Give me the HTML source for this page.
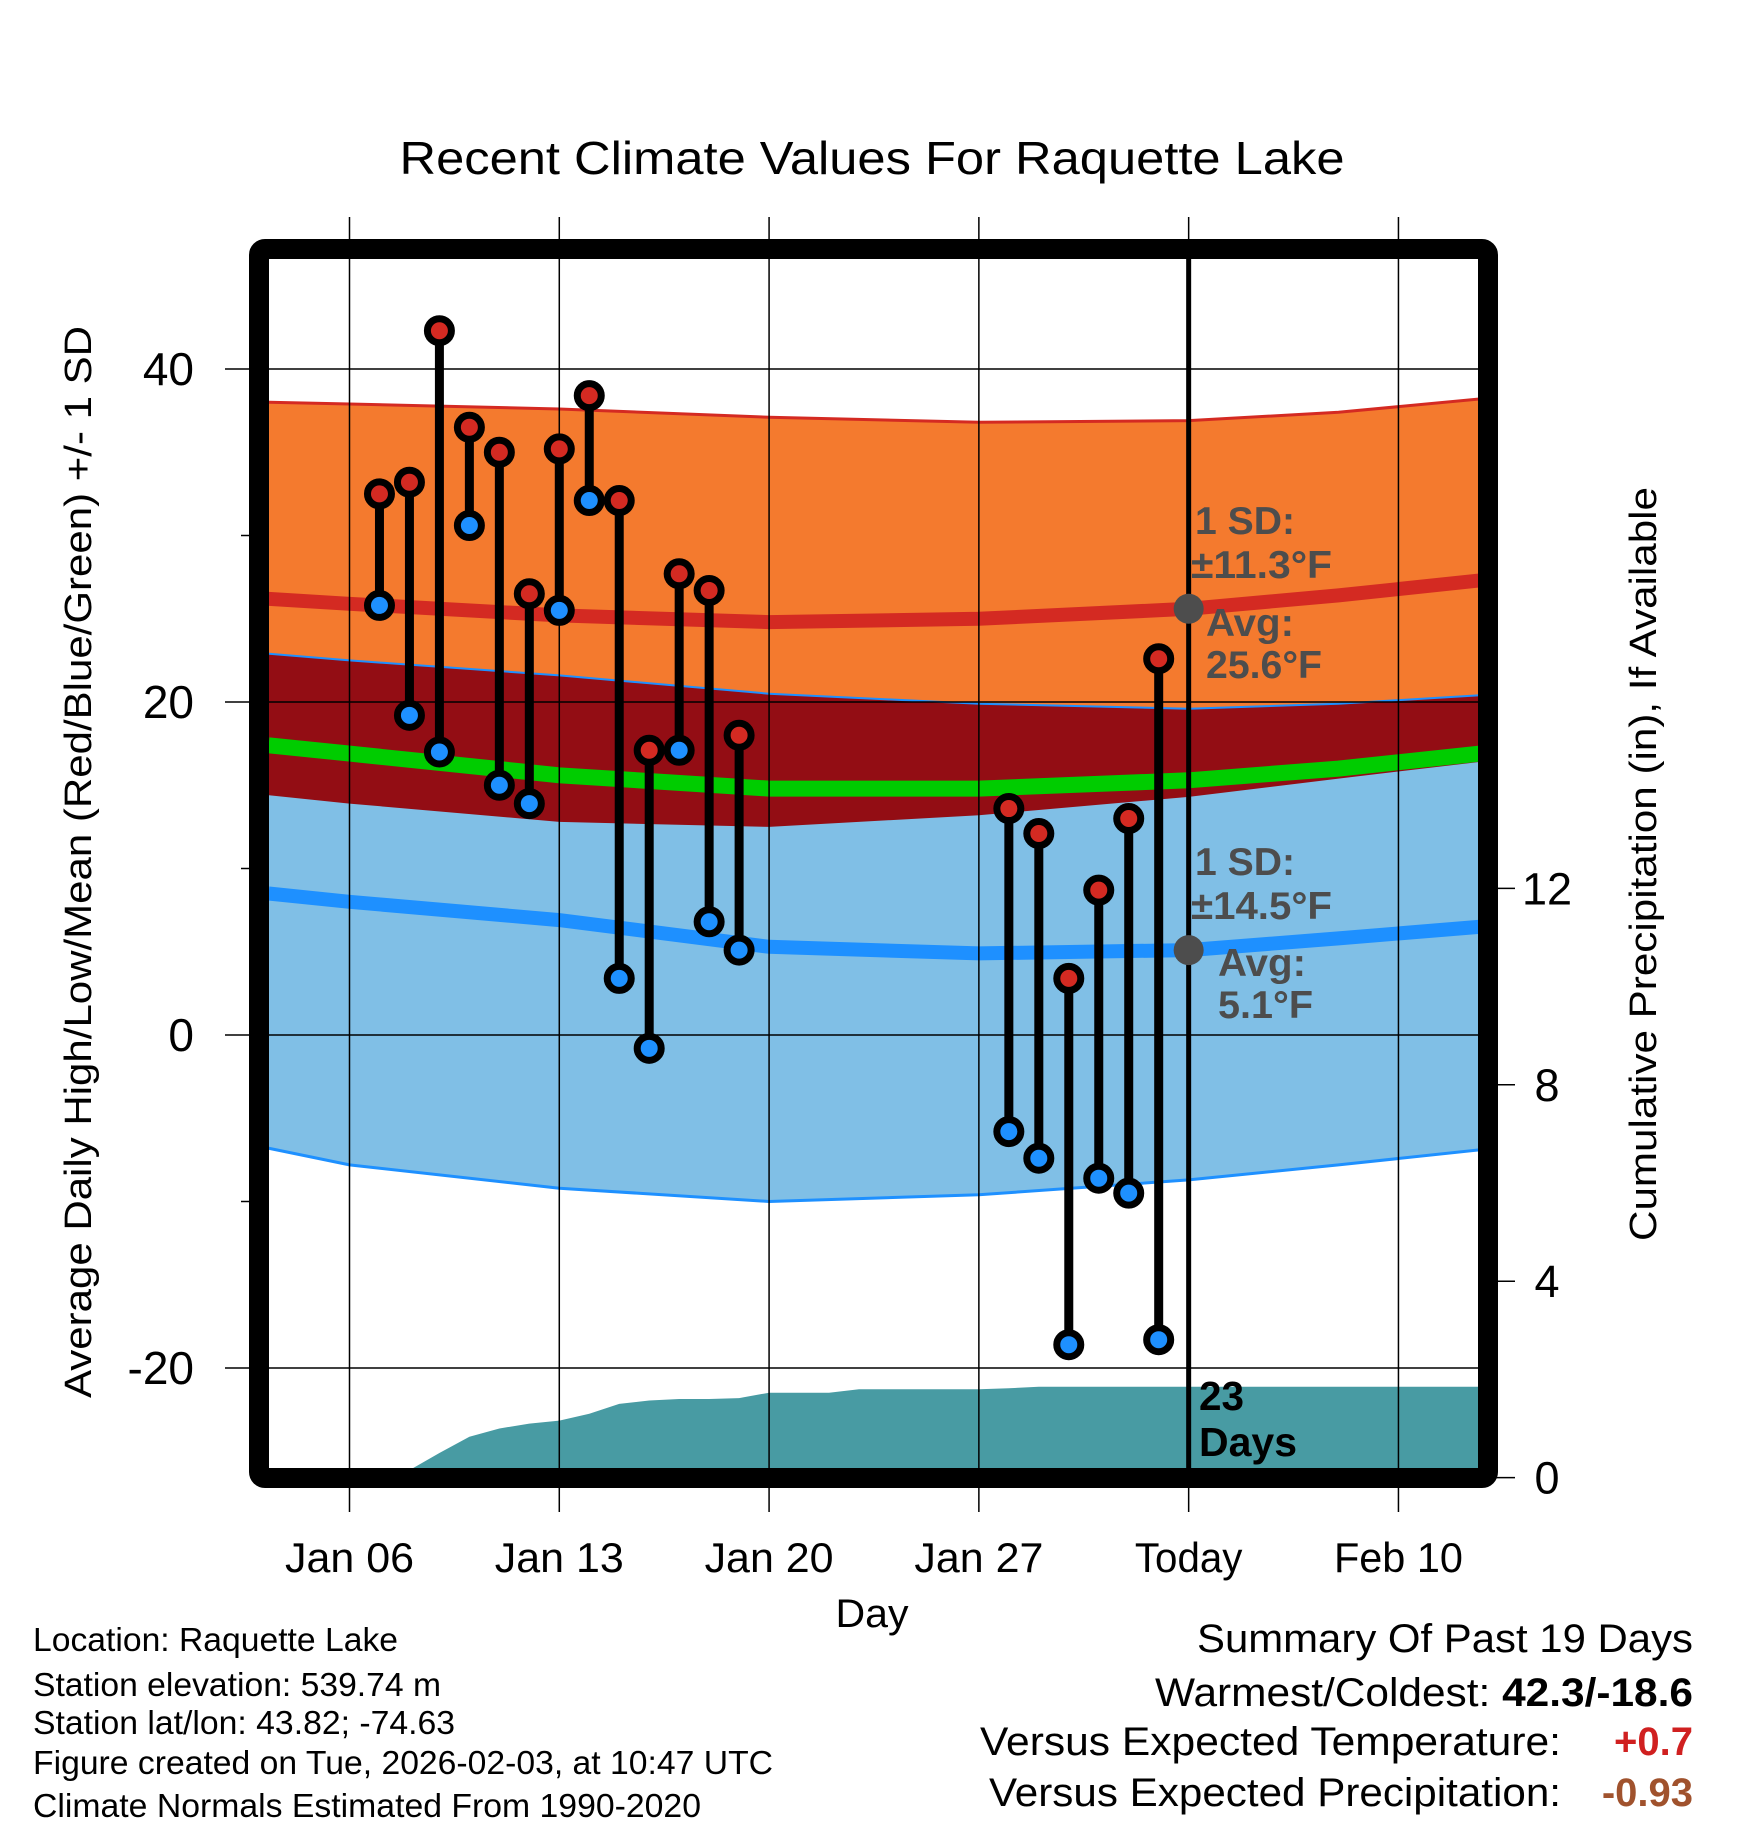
<!DOCTYPE html>
<html><head><meta charset="utf-8"><style>
html,body{margin:0;padding:0;background:#fff;}
svg{display:block;font-family:"Liberation Sans",Arial,sans-serif;}
</style></head>
<body>
<svg id="chart" width="1748" height="1828" viewBox="0 0 1748 1828" xmlns="http://www.w3.org/2000/svg">
<defs><clipPath id="plotclip"><rect x="269" y="259" width="1209" height="1209"/></clipPath></defs>
<g id="bands" clip-path="url(#plotclip)"></g>
<g id="precip" clip-path="url(#plotclip)"></g>
<g id="grid"></g>
<g id="lines" clip-path="url(#plotclip)"></g>
<g id="obs"></g>
<g id="annot"></g>
<rect x="259" y="249" width="1229" height="1229" rx="6" fill="none" stroke="#000" stroke-width="20"/>
<g id="axes"></g>
<text x="872" y="174" font-size="46" text-anchor="middle" textLength="945" lengthAdjust="spacingAndGlyphs">Recent Climate Values For Raquette Lake</text>
<text transform="translate(91,862) rotate(-90)" font-size="38" text-anchor="middle" textLength="1072" lengthAdjust="spacingAndGlyphs">Average Daily High/Low/Mean (Red/Blue/Green) +/- 1 SD</text>
<text transform="translate(1656,864) rotate(-90)" font-size="38" text-anchor="middle" textLength="754" lengthAdjust="spacingAndGlyphs">Cumulative Precipitation (in), If Available</text>
<text x="872" y="1627" font-size="40" text-anchor="middle" textLength="73" lengthAdjust="spacingAndGlyphs">Day</text>
<g font-size="33">
<text x="33" y="1651" textLength="365" lengthAdjust="spacingAndGlyphs">Location: Raquette Lake</text>
<text x="33" y="1696" textLength="408" lengthAdjust="spacingAndGlyphs">Station elevation: 539.74 m</text>
<text x="33" y="1734" textLength="422" lengthAdjust="spacingAndGlyphs">Station lat/lon: 43.82; -74.63</text>
<text x="33" y="1774" textLength="740" lengthAdjust="spacingAndGlyphs">Figure created on Tue, 2026-02-03, at 10:47 UTC</text>
<text x="33" y="1817" textLength="668" lengthAdjust="spacingAndGlyphs">Climate Normals Estimated From 1990-2020</text>
</g>
<g font-size="40">
<text x="1197" y="1652" textLength="496" lengthAdjust="spacingAndGlyphs">Summary Of Past 19 Days</text>
<text x="1155" y="1706" textLength="538" lengthAdjust="spacingAndGlyphs">Warmest/Coldest: <tspan font-weight="bold">42.3/-18.6</tspan></text>
<text x="980" y="1755" textLength="581" lengthAdjust="spacingAndGlyphs">Versus Expected Temperature:</text>
<text x="1693" y="1755" text-anchor="end" font-weight="bold" fill="#d02020">+0.7</text>
<text x="989" y="1806" textLength="572" lengthAdjust="spacingAndGlyphs">Versus Expected Precipitation:</text>
<text x="1693" y="1806" text-anchor="end" font-weight="bold" fill="#a0522d">-0.93</text>
</g>
</svg>
<script>
// ---- data ----
const normDays = [-2.7, 0, 7, 14, 21, 28, 33, 37.7];
const highTop  = [38.0, 37.9, 37.6, 37.1, 36.8, 36.9, 37.4, 38.2];
const highAvg  = [26.2, 25.9, 25.2, 24.8, 25.0, 25.6, 26.4, 27.3];
const highBot  = [14.4, 13.9, 12.8, 12.5, 13.2, 14.3, 15.4, 16.4];
const meanAvg  = [17.4, 16.9, 15.6, 14.8, 14.8, 15.3, 16.0, 16.9];
const lowTop   = [22.9, 22.5, 21.6, 20.5, 19.9, 19.6, 19.9, 20.4];
const lowAvg   = [8.5, 8.0, 6.9, 5.3, 4.9, 5.1, 5.8, 6.5];
const lowBot   = [-6.8, -7.8, -9.2, -10.0, -9.6, -8.7, -7.8, -6.9];
const obsDays  = [1,2,3,4,5,6,7,8,9,10,11,12,13,22,23,24,25,26,27];
const obsHigh  = [32.5,33.2,42.3,36.5,35.0,26.5,35.2,38.4,32.1,17.1,27.7,26.7,18.0,13.6,12.1,3.4,8.7,13.0,22.6];
const obsLow   = [25.8,19.2,17.0,30.6,15.0,13.9,25.5,32.1,3.4,-0.8,17.1,6.8,5.1,-5.8,-7.4,-18.6,-8.6,-9.5,-18.3];
const precDays = [-2.7,1,2,3,4,5,6,7,8,9,10,11,12,13,14,15,16,17,18,19,20,21,22,23,24,25,26,27,28,37.7];
const precVals = [0,0,0.15,0.5,0.83,1.0,1.1,1.16,1.3,1.5,1.57,1.6,1.6,1.62,1.73,1.73,1.73,1.8,1.8,1.8,1.8,1.8,1.82,1.85,1.85,1.85,1.85,1.85,1.85,1.85];
const xTickDays = [0,7,14,21,28,35];
const xTickLabels = ['Jan 06','Jan 13','Jan 20','Jan 27','Today','Feb 10'];
const yTicks = [40,20,0,-20];
const yMinor = [30,10,-10];
const y2Ticks = [0,4,8,12];
const todayDay = 28;
const todayHighAvg = 25.6, todayLowAvg = 5.1;

// ---- scales ----
const X = d => 349.5 + d*29.97;
const Y = v => 1035 - v*16.65;
const Y2 = p => 1477.6 - p*49.1;
const NS='http://www.w3.org/2000/svg';
function mk(tag, parent, attrs){const e=document.createElementNS(NS,tag);for(const k in attrs)e.setAttribute(k,attrs[k]);document.getElementById(parent).appendChild(e);return e;}
function line(arr){return normDays.map((d,i)=>X(d).toFixed(1)+','+Y(arr[i]).toFixed(1)).join(' ');}
function band(top,bot){return line(top)+' '+normDays.map((d,i)=>X(d).toFixed(1)+','+Y(bot[i]).toFixed(1)).reverse().join(' ');}

let e;
e=mk('polygon','bands',{points:band(highTop,highBot),fill:'#f47a2e'});


e=mk('polygon','bands',{points:band(lowTop,lowBot),fill:'#80bfe6'});


e=mk('polygon','bands',{points:band(lowTop,highBot),fill:'#930d14'});


e=mk('polyline','bands',{points:line(highTop),fill:'none',stroke:'#d42a22','stroke-width':3});


e=mk('polyline','bands',{points:line(lowTop),fill:'none',stroke:'#1e90ff','stroke-width':2});


e=mk('polyline','bands',{points:line(lowBot),fill:'none',stroke:'#1e90ff','stroke-width':3});


e=mk('polyline','bands',{points:line(highAvg),fill:'none',stroke:'#d42a22','stroke-width':14});


e=mk('polyline','bands',{points:line(meanAvg),fill:'none',stroke:'#00cc00','stroke-width':16});


e=mk('polyline','bands',{points:line(lowAvg),fill:'none',stroke:'#1e90ff','stroke-width':14});



// precipitation
let pp = precDays.map((d,i)=>X(d).toFixed(1)+','+Y2(precVals[i]).toFixed(1)).join(' ');
pp += ' '+X(precDays[precDays.length-1]).toFixed(1)+',1500 '+X(precDays[0]).toFixed(1)+',1500';
e=mk('polygon','precip',{points:pp,fill:'#489ba3'});



// grid
xTickDays.forEach((d,i)=>{
  e=mk('line','grid',{x1:X(d),x2:X(d),y1:217,y2:1512,stroke:'#000','stroke-width':1.5});
  
  
  e=mk('text','axes',{x:X(d),y:1572,'font-size':42,'text-anchor':'middle',textLength:xTickLabels[i].length*21.5,lengthAdjust:'spacingAndGlyphs'});
  e.textContent=xTickLabels[i];
  
  
});
yTicks.forEach(v=>{
  e=mk('line','grid',{x1:225,x2:1478,y1:Y(v),y2:Y(v),stroke:'#000','stroke-width':1.5});
  
  
  e=mk('text','axes',{x:194,y:Y(v)+16,'font-size':46,'text-anchor':'end'});
  e.textContent=v;
  
  
});
yMinor.forEach(v=>{
  e=mk('line','grid',{x1:241,x2:255,y1:Y(v),y2:Y(v),stroke:'#000','stroke-width':1.5});
  
  
});
y2Ticks.forEach(p=>{
  e=mk('line','grid',{x1:1495,x2:1515,y1:Y2(p),y2:Y2(p),stroke:'#000','stroke-width':1.5});
  
  
  e=mk('text','axes',{x:1547,y:Y2(p)+16,'font-size':45,'text-anchor':'middle'});
  e.textContent=p;
  
  
});
e=mk('line','lines',{x1:X(todayDay),x2:X(todayDay),y1:250,y2:1480,stroke:'#000','stroke-width':5});



// observations
obsDays.forEach((d,i)=>{
  const x=X(d);
  e=mk('line','obs',{x1:x,x2:x,y1:Y(obsHigh[i]),y2:Y(obsLow[i]),stroke:'#000','stroke-width':9});
  
  
  e=mk('circle','obs',{cx:x,cy:Y(obsHigh[i]),r:12,fill:'#d42a22',stroke:'#000','stroke-width':7});
  
  
  e=mk('circle','obs',{cx:x,cy:Y(obsLow[i]),r:12,fill:'#1e90ff',stroke:'#000','stroke-width':7});
  
  
});

// today annotations
[todayHighAvg,todayLowAvg].forEach(v=>{
  e=mk('circle','annot',{cx:X(todayDay),cy:Y(v),r:15,fill:'#4d4d4d'});
  
  
});
const ann=[['1 SD:',1195,534,100],['±11.3°F',1191,578,141],['Avg:',1206,636,88],['25.6°F',1206,678,116],
           ['1 SD:',1195,875,100],['±14.5°F',1191,919,141],['Avg:',1218,976,88],['5.1°F',1218,1018,95]];
ann.forEach(a=>{
  e=mk('text','annot',{x:a[1],y:a[2],'font-size':39,'font-weight':'bold',fill:'#4d4d4d',textLength:a[3],lengthAdjust:'spacingAndGlyphs'});
  e.textContent=a[0];
  
  
});
[['23',1410,45],['Days',1456,98]].forEach(a=>{
  e=mk('text','annot',{x:1199,y:a[1],'font-size':41,'font-weight':'bold',fill:'#000',textLength:a[2],lengthAdjust:'spacingAndGlyphs'});
  e.textContent=a[0];
  
  
});
</script>
</body></html>
